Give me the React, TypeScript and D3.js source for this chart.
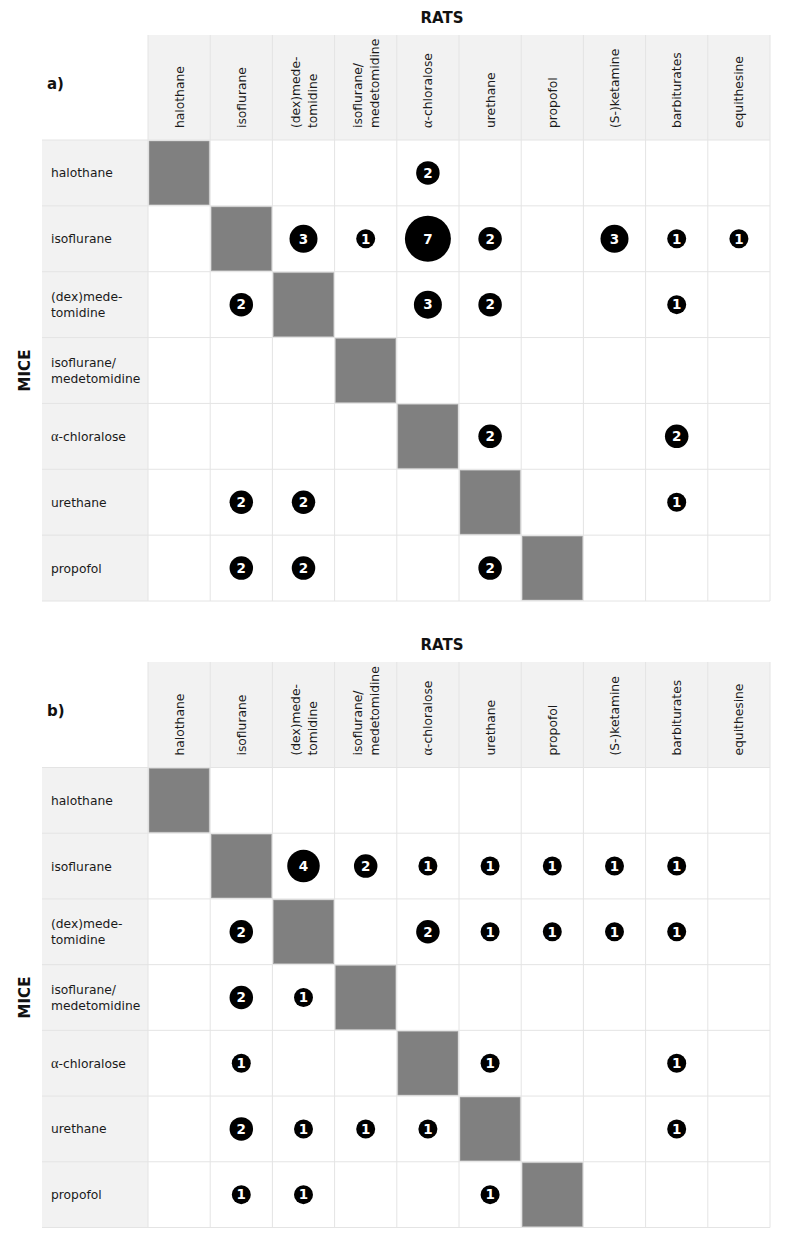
import React from "react";
import * as d3 from "d3";

const ratLabels: string[][] = [
  ["halothane"],
  ["isoflurane"],
  ["(dex)mede-", "tomidine"],
  ["isoflurane/", "medetomidine"],
  ["α-chloralose"],
  ["urethane"],
  ["propofol"],
  ["(S-)ketamine"],
  ["barbiturates"],
  ["equithesine"],
];

const miceLabels: string[][] = [
  ["halothane"],
  ["isoflurane"],
  ["(dex)mede-", "tomidine"],
  ["isoflurane/", "medetomidine"],
  ["α-chloralose"],
  ["urethane"],
  ["propofol"],
];

// rows = mice anaesthetics, columns = rat anaesthetics; 0 = no study
const countsA: number[][] = [
  [0, 0, 0, 0, 2, 0, 0, 0, 0, 0],
  [0, 0, 3, 1, 7, 2, 0, 3, 1, 1],
  [0, 2, 0, 0, 3, 2, 0, 0, 1, 0],
  [0, 0, 0, 0, 0, 0, 0, 0, 0, 0],
  [0, 0, 0, 0, 0, 2, 0, 0, 2, 0],
  [0, 2, 2, 0, 0, 0, 0, 0, 1, 0],
  [0, 2, 2, 0, 0, 2, 0, 0, 0, 0],
];

const countsB: number[][] = [
  [0, 0, 0, 0, 0, 0, 0, 0, 0, 0],
  [0, 0, 4, 2, 1, 1, 1, 1, 1, 0],
  [0, 2, 0, 0, 2, 1, 1, 1, 1, 0],
  [0, 2, 1, 0, 0, 0, 0, 0, 0, 0],
  [0, 1, 0, 0, 0, 1, 0, 0, 1, 0],
  [0, 2, 1, 1, 1, 0, 0, 0, 1, 0],
  [0, 1, 1, 0, 0, 1, 0, 0, 0, 0],
];

const panelTags = ["a)", "b)"];

const FONT = "'DejaVu Sans', Verdana, sans-serif";

function LabelText({ text, x, y, size, anchor, rotate }: any) {
  const parts = text.startsWith("α") ? [["α", true], [text.slice(1), false]] : [[text, false]];
  return (
    <text
      x={x}
      y={y}
      fontSize={size}
      fill="#1a1a1a"
      textAnchor={anchor}
      fontFamily={FONT}
      transform={rotate ? `rotate(-90 ${x} ${y})` : undefined}
    >
      {parts.map((p: any, i: number) => (
        <tspan key={i} fontFamily={p[1] ? "'Liberation Serif', serif" : FONT} fontSize={p[1] ? size + 2 : size}>
          {p[0]}
        </tspan>
      ))}
    </text>
  );
}

function Panel({ counts, tag, top, headerH, gridBottom }: any) {
  const left = 42;
  const colStart = 148;
  const right = 770;
  const headerBottom = top + headerH;
  const x = d3.scaleBand<number>().domain(d3.range(ratLabels.length)).range([colStart, right]);
  const y = d3.scaleBand<number>().domain(d3.range(miceLabels.length)).range([headerBottom, gridBottom]);
  const r = d3.scaleLinear().domain([1, 7]).range([9.5, 23]);
  const bw = x.bandwidth();
  const bh = y.bandwidth();
  const lineCol = "#e4e4e4";

  return (
    <g>
      <rect x={colStart} y={top} width={right - colStart} height={headerH} fill="#f2f2f2" />
      <rect x={left} y={headerBottom} width={colStart - left} height={gridBottom - headerBottom} fill="#f2f2f2" />
      {miceLabels.map((_, i) => (
        <rect
          key={"d" + i}
          x={(x(i) as number) + 1}
          y={(y(i) as number) + 1}
          width={bw - 2}
          height={bh - 2}
          fill="#808080"
          stroke="#a8a8a8"
          strokeWidth={0.8}
        />
      ))}
      {d3.range(ratLabels.length + 1).map((j) => {
        const xx = j < ratLabels.length ? (x(j) as number) : right;
        return <line key={"v" + j} x1={xx} x2={xx} y1={top} y2={gridBottom} stroke={lineCol} strokeWidth={1} />;
      })}
      {d3.range(miceLabels.length + 1).map((i) => {
        const yy = i < miceLabels.length ? (y(i) as number) : gridBottom;
        return <line key={"h" + i} x1={left} x2={right} y1={yy} y2={yy} stroke={lineCol} strokeWidth={1} />;
      })}
      {ratLabels.map((lines, j) => {
        const cx = (x(j) as number) + bw / 2;
        const n = lines.length;
        return lines.map((ln, k) => {
          const xx = cx + (k - (n - 1) / 2) * 17 + 4.5;
          return <LabelText key={"c" + j + k} text={ln} x={xx} y={headerBottom - 12} size={12.3} anchor="start" rotate />;
        });
      })}
      {miceLabels.map((lines, i) => {
        const cy = (y(i) as number) + bh / 2;
        const n = lines.length;
        return lines.map((ln, k) => {
          const yy = cy + (k - (n - 1) / 2) * 16 + 4.5;
          return <LabelText key={"r" + i + k} text={ln} x={51} y={yy} size={12.3} anchor="start" rotate={false} />;
        });
      })}
      {counts.map((row: number[], i: number) =>
        row.map((v: number, j: number) =>
          v > 0 ? (
            <g key={"b" + i + "-" + j}>
              <circle cx={(x(j) as number) + bw / 2} cy={(y(i) as number) + bh / 2} r={r(v)} fill="#000" />
              <text
                x={(x(j) as number) + bw / 2}
                y={(y(i) as number) + bh / 2 + 4.8}
                textAnchor="middle"
                fill="#fff"
                fontWeight="bold"
                fontSize={13.5}
                fontFamily={FONT}
              >
                {v}
              </text>
            </g>
          ) : null
        )
      )}
      <text x={442} y={top - 12} textAnchor="middle" fontWeight="bold" fontSize={15} fontFamily={FONT} fill="#111">
        RATS
      </text>
      <text x={47} y={top + 54} fontWeight="bold" fontSize={15} fontFamily={FONT} fill="#111">
        {tag}
      </text>
      <text
        x={30}
        y={(headerBottom + gridBottom) / 2}
        textAnchor="middle"
        fontWeight="bold"
        fontSize={15}
        fontFamily={FONT}
        fill="#111"
        transform={`rotate(-90 30 ${(headerBottom + gridBottom) / 2})`}
      >
        MICE
      </text>
    </g>
  );
}

export default function App() {
  return (
    <svg width={795} height={1245} style={{ position: "absolute", left: 0, top: 0, background: "#fff" }}>
      <rect width={795} height={1245} fill="#fff" />
      <Panel counts={countsA} tag={panelTags[0]} top={35} headerH={105} gridBottom={601} />
      <Panel counts={countsB} tag={panelTags[1]} top={662} headerH={105.5} gridBottom={1227.5} />
    </svg>
  );
}
